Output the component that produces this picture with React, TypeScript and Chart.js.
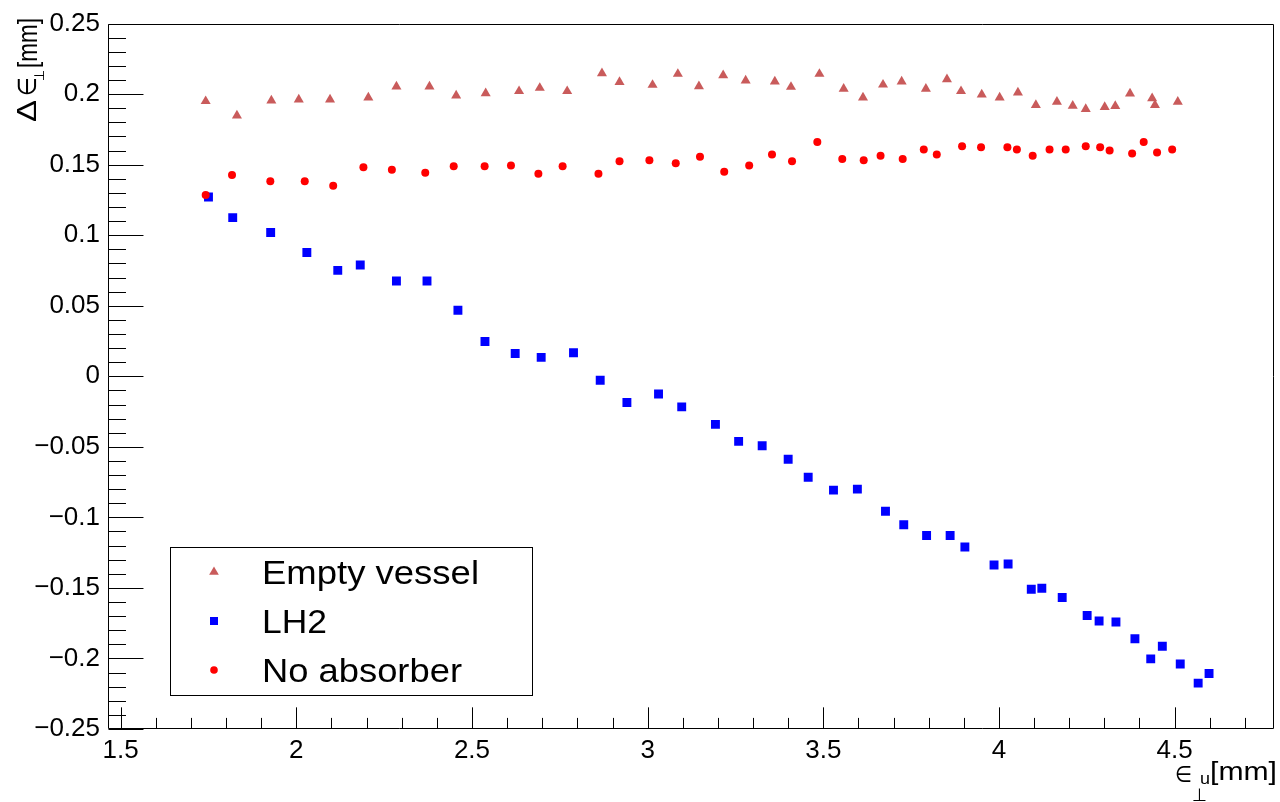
import React, { useEffect, useRef } from 'react';
import { Chart, registerables } from 'chart.js';

Chart.register(...registerables);

// ---------------- data ----------------
const emptyX = [1.742, 1.831, 1.929, 2.007, 2.096, 2.205, 2.285, 2.379, 2.455, 2.539, 2.634, 2.693, 2.771, 2.870, 2.920, 3.014, 3.086, 3.146, 3.215, 3.279, 3.362, 3.408, 3.489, 3.558, 3.613, 3.670, 3.723, 3.792, 3.852, 3.892, 3.951, 4.002, 4.054, 4.105, 4.165, 4.210, 4.247, 4.301, 4.331, 4.373, 4.436, 4.444, 4.509];
const emptyY = [0.1950, 0.1848, 0.1954, 0.1962, 0.1962, 0.1976, 0.2054, 0.2054, 0.1990, 0.2006, 0.2021, 0.2044, 0.2021, 0.2148, 0.2086, 0.2065, 0.2143, 0.2056, 0.2134, 0.2096, 0.2089, 0.2051, 0.2143, 0.2037, 0.1976, 0.2067, 0.2089, 0.2037, 0.2105, 0.2021, 0.1997, 0.1976, 0.2011, 0.1922, 0.1945, 0.1917, 0.1894, 0.1908, 0.1915, 0.2004, 0.1971, 0.1922, 0.1945];

const lh2X = [1.750, 1.819, 1.927, 2.030, 2.118, 2.182, 2.285, 2.372, 2.460, 2.537, 2.623, 2.697, 2.789, 2.865, 2.941, 3.031, 3.097, 3.193, 3.259, 3.326, 3.400, 3.457, 3.529, 3.597, 3.677, 3.729, 3.794, 3.861, 3.903, 3.986, 4.026, 4.092, 4.122, 4.180, 4.251, 4.285, 4.333, 4.387, 4.432, 4.465, 4.516, 4.567, 4.598];
const lh2Y = [0.1271, 0.1125, 0.1019, 0.0878, 0.0751, 0.0789, 0.0676, 0.0676, 0.0468, 0.0247, 0.0162, 0.0134, 0.0167, -0.0028, -0.0186, -0.0125, -0.0217, -0.0341, -0.0461, -0.0492, -0.0588, -0.0716, -0.0807, -0.0800, -0.0956, -0.1052, -0.1128, -0.1128, -0.1210, -0.1337, -0.1330, -0.1509, -0.1502, -0.1568, -0.1695, -0.1735, -0.1742, -0.1860, -0.2003, -0.1914, -0.2039, -0.2175, -0.2107];

const noAbsX = [1.742, 1.817, 1.926, 2.024, 2.105, 2.191, 2.272, 2.367, 2.448, 2.536, 2.611, 2.689, 2.758, 2.860, 2.920, 3.005, 3.080, 3.149, 3.218, 3.289, 3.354, 3.411, 3.483, 3.554, 3.615, 3.663, 3.726, 3.786, 3.823, 3.895, 3.949, 4.024, 4.051, 4.096, 4.144, 4.190, 4.247, 4.288, 4.315, 4.379, 4.412, 4.450, 4.493];
const noAbsY = [0.1285, 0.1427, 0.1382, 0.1382, 0.1351, 0.1481, 0.1464, 0.1443, 0.1488, 0.1488, 0.1495, 0.1436, 0.1488, 0.1436, 0.1525, 0.1532, 0.1511, 0.1556, 0.1450, 0.1495, 0.1573, 0.1525, 0.1660, 0.1540, 0.1532, 0.1563, 0.1540, 0.1608, 0.1572, 0.1631, 0.1624, 0.1624, 0.1608, 0.1563, 0.1608, 0.1608, 0.1631, 0.1624, 0.1601, 0.1580, 0.1660, 0.1587, 0.1608];

const seriesNames = ['Empty vessel', 'LH2', 'No absorber'];
const seriesColors = ['#c95b5b', '#0000ff', '#ff0000'];

const xMin = 1.464;
const xMax = 4.782;
const yMin = -0.25;
const yMax = 0.25;

const FONT = '"Liberation Sans", Arial, Helvetica, sans-serif';
const SYMFONT = '"DejaVu Sans", "Liberation Sans", sans-serif';

function fmt(v: number | string) {
  const n = Math.round(Number(v) * 1000) / 1000;
  return String(n === 0 ? 0 : n).replace('-', '\u2212');
}

function fitText(ctx: CanvasRenderingContext2D, text: string, x: number, y: number, w: number, size: number, family: string = FONT) {
  ctx.font = `${size}px ${family}`;
  const m = ctx.measureText(text).width || 1;
  ctx.save();
  ctx.translate(x, y);
  ctx.scale(w / m, 1);
  ctx.textAlign = 'left';
  ctx.textBaseline = 'alphabetic';
  ctx.fillText(text, 0, 0);
  ctx.restore();
}

function drawMarker(ctx: CanvasRenderingContext2D, style: string, x: number, y: number, color: string) {
  ctx.fillStyle = color;
  ctx.beginPath();
  if (style === 'triangle') {
    const r = 5.6;
    ctx.moveTo(x, y - r);
    ctx.lineTo(x + r * 0.866, y + r * 0.5);
    ctx.lineTo(x - r * 0.866, y + r * 0.5);
    ctx.closePath();
  } else if (style === 'rect') {
    ctx.rect(x - 4, y - 4, 8, 8);
  } else {
    ctx.arc(x, y, 3.8, 0, Math.PI * 2);
  }
  ctx.fill();
}

const rootPlugin = {
  id: 'rootStyle',
  afterDraw(chart: any) {
    const ctx: CanvasRenderingContext2D = chart.ctx;
    const { left, right, top, bottom } = chart.chartArea;
    const xs = chart.scales.x;
    const ys = chart.scales.y;
    ctx.save();
    ctx.strokeStyle = '#000';
    ctx.lineWidth = 1;
    // frame
    const L = Math.round(left) + 0.5, R = Math.round(right) - 0.5;
    const T = Math.round(top) + 0.5, B = Math.round(bottom) - 0.5;
    ctx.beginPath();
    ctx.rect(L, T, R - L, B - T);
    ctx.stroke();
    // x ticks (inside, upward)
    const plotW = right - left, plotH = bottom - top;
    ctx.beginPath();
    for (let i = Math.ceil(xMin * 10); i <= Math.floor(xMax * 10); i++) {
      const px = Math.round(xs.getPixelForValue(i / 10)) + 0.5;
      const len = i % 5 === 0 ? 0.03 * plotH : 0.015 * plotH;
      ctx.moveTo(px, B);
      ctx.lineTo(px, B - len);
    }
    // y ticks (inside, rightward)
    for (let i = Math.ceil(yMin * 100); i <= Math.floor(yMax * 100); i++) {
      const py = Math.round(ys.getPixelForValue(i / 100)) + 0.5;
      const len = i % 5 === 0 ? 0.03 * plotW : 0.015 * plotW;
      ctx.moveTo(L, py);
      ctx.lineTo(L + len, py);
    }
    ctx.stroke();

    ctx.fillStyle = '#000';
    // x title: ϵ_{⊥u}[mm]
    fitText(ctx, '\u2208', 1175, 782, 17, 23, SYMFONT);
    fitText(ctx, '\u22A5', 1192, 801, 15, 18, SYMFONT);
    fitText(ctx, 'u', 1200, 784, 10, 17);
    fitText(ctx, '[mm]', 1210, 780, 67, 26);

    // y title (rotated)
    ctx.save();
    ctx.translate(36, 122);
    ctx.rotate(-Math.PI / 2);
    fitText(ctx, '\u0394', 0, 0, 22, 28);
    fitText(ctx, '\u2208', 26, 0, 19, 26, SYMFONT);
    fitText(ctx, '\u22A5', 41, 8, 11, 14, SYMFONT);
    fitText(ctx, '[mm]', 54, 1, 50, 28);
    ctx.restore();

    // legend
    const bx = 170, by = 547, bw = 362, bh = 148;
    ctx.fillStyle = '#fff';
    ctx.fillRect(bx, by, bw, bh);
    ctx.strokeStyle = '#000';
    ctx.strokeRect(bx + 0.5, by + 0.5, bw, bh);
    const rows = [572, 621, 670];
    const styles = ['triangle', 'rect', 'circle'];
    const widths = [217, 65, 200];
    for (let k = 0; k < 3; k++) {
      drawMarker(ctx, styles[k], 214, rows[k], seriesColors[k]);
      ctx.fillStyle = '#000';
      fitText(ctx, seriesNames[k], 262, rows[k] + 12, widths[k], 33);
    }
    ctx.restore();
  },
};

export default function App() {
  const ref = useRef<HTMLCanvasElement | null>(null);
  useEffect(() => {
    if (!ref.current) return;
    const mk = (xs: number[], ys: number[]) => xs.map((x, i) => ({ x, y: ys[i] }));
    const chart = new Chart(ref.current, {
      type: 'scatter',
      data: {
        datasets: [
          {
            label: seriesNames[0],
            data: mk(emptyX, emptyY),
            pointStyle: 'triangle',
            pointRadius: 5.8,
            backgroundColor: seriesColors[0],
            borderColor: seriesColors[0],
            borderWidth: 0,
            order: 3,
          },
          {
            label: seriesNames[1],
            data: mk(lh2X, lh2Y),
            pointStyle: 'rect',
            pointRadius: 6.3,
            backgroundColor: seriesColors[1],
            borderColor: seriesColors[1],
            borderWidth: 0,
            order: 2,
          },
          {
            label: seriesNames[2],
            data: mk(noAbsX, noAbsY),
            pointStyle: 'circle',
            pointRadius: 4,
            backgroundColor: seriesColors[2],
            borderColor: seriesColors[2],
            borderWidth: 0,
            order: 1,
          },
        ],
      },
      options: {
        responsive: false,
        animation: false,
        events: [],
        layout: { padding: { left: 0, right: 3, top: 19.5, bottom: 0 } },
        plugins: { legend: { display: false }, tooltip: { enabled: false } },
        scales: {
          x: {
            type: 'linear',
            min: xMin,
            max: xMax,
            grid: { display: false, drawTicks: false },
            border: { display: false },
            ticks: {
              stepSize: 0.5,
              includeBounds: false,
              autoSkip: false,
              maxRotation: 0,
              padding: 6,
              color: '#000',
              font: { family: FONT, size: 26 },
              callback: (v: any) => fmt(v),
            },
            afterFit: (s: any) => {
              s.height = 73;
            },
          },
          y: {
            type: 'linear',
            min: yMin,
            max: yMax,
            grid: { display: false, drawTicks: false },
            border: { display: false },
            ticks: {
              stepSize: 0.05,
              includeBounds: false,
              autoSkip: false,
              padding: 8,
              color: '#000',
              font: { family: FONT, size: 26 },
              callback: (v: any) => fmt(v),
            },
            afterFit: (s: any) => {
              s.width = 108;
            },
          },
        },
      },
      plugins: [rootPlugin],
    } as any);
    return () => chart.destroy();
  }, []);
  return (
    <div style={{ position: 'absolute', left: 0, top: 0, width: 1280, height: 802, background: '#fff' }}>
      <canvas ref={ref} width={1280} height={802} style={{ width: 1280, height: 802, display: 'block' }} />
    </div>
  );
}
